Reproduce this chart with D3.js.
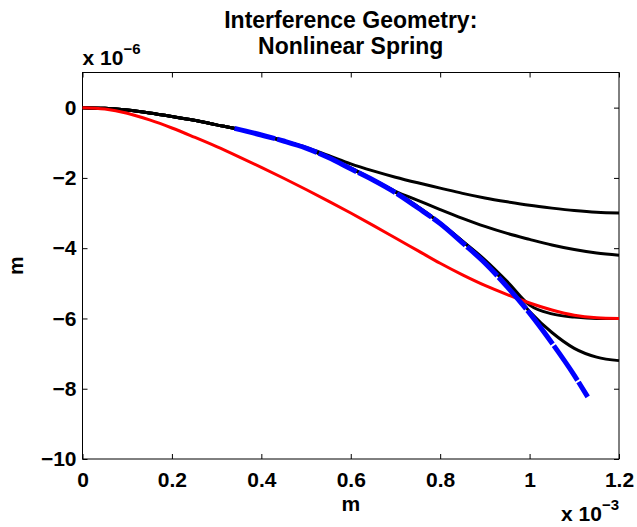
<!DOCTYPE html>
<html lang="en">
<head>
    <meta charset="UTF-8">
    <script src="https://d3js.org/d3.v7.min.js"></script>
    <title>Interference Geometry</title>
    <style>
        body { margin: 0; background: #fff; }
        text { font-family: "Liberation Sans", Arial, Helvetica, sans-serif; font-weight: bold; fill: #000; }
    </style>
</head>
<body>
<script>
    var width = 637;
    var height = 527;

    // x in units of 1e-3 m, y in units of 1e-6 m
    var xGrid = [0, 0.05, 0.1, 0.15, 0.2, 0.25, 0.3, 0.35, 0.4, 0.45, 0.5, 0.55, 0.6,
                 0.65, 0.7, 0.75, 0.8, 0.85, 0.9, 0.95, 1.0, 1.05, 1.1, 1.15, 1.2];

    var redY = [0, -0.04, -0.16, -0.35, -0.58, -0.84, -1.11, -1.4, -1.7, -2.01, -2.33, -2.66, -3.0,
                -3.35, -3.71, -4.07, -4.43, -4.76, -5.06, -5.32, -5.56, -5.76, -5.91, -5.98, -6.0];

    var blackA = [0, -0.02, -0.07, -0.15, -0.25, -0.36, -0.49, -0.62, -0.78, -0.95, -1.13, -1.36, -1.6,
                  -1.8, -1.98, -2.14, -2.29, -2.44, -2.57, -2.68, -2.78, -2.86, -2.93, -2.98, -3.0];
    var blackB = [0, -0.02, -0.07, -0.15, -0.25, -0.36, -0.49, -0.62, -0.78, -0.95, -1.15, -1.42, -1.72,
                  -2.05, -2.38, -2.64, -2.9, -3.15, -3.38, -3.58, -3.75, -3.91, -4.04, -4.14, -4.2];
    var blackC = [0, -0.02, -0.07, -0.15, -0.25, -0.36, -0.49, -0.62, -0.78, -0.95, -1.15, -1.42, -1.72,
                  -2.05, -2.4, -2.82, -3.28, -3.8, -4.33, -4.95, -5.62, -5.87, -5.96, -6.0, -6.0];
    var blackD = [0, -0.02, -0.07, -0.15, -0.25, -0.36, -0.49, -0.62, -0.78, -0.95, -1.15, -1.42, -1.72,
                  -2.05, -2.4, -2.82, -3.28, -3.8, -4.38, -5.05, -5.8, -6.4, -6.85, -7.1, -7.2];

    var blueX = [0.34, 0.4, 0.45, 0.5, 0.55, 0.6, 0.65, 0.7, 0.75, 0.8, 0.85, 0.9, 0.95, 1.0, 1.05, 1.1, 1.13];
    var blueY = [-0.59, -0.78, -0.95, -1.15, -1.42, -1.74, -2.06, -2.42, -2.85, -3.3, -3.85, -4.42, -5.1,
                 -5.85, -6.7, -7.62, -8.23];

    var xTicks = [0, 0.2, 0.4, 0.6, 0.8, 1, 1.2];
    var yTicks = [-10, -8, -6, -4, -2, 0];

    var svg = d3.select("body").append("svg")
        .attr("width", width).attr("height", height);

    var mLeft = 82.5, mRight = 619, mTop = 72.5, mBottom = 459;

    var x = d3.scaleLinear().domain([0, 1.2]).range([mLeft, mRight]);
    var y = d3.scaleLinear().domain([-10, 1]).range([mBottom, mTop]);
    var cx = (mLeft + mRight) / 2;

    // title
    var title = svg.append("text")
        .attr("text-anchor", "middle")
        .style("font-size", "23px");
    title.append("tspan").attr("x", cx).attr("y", 28).text("Interference Geometry:");
    title.append("tspan").attr("x", cx).attr("y", 54).text("Nonlinear Spring");

    // axes, MATLAB style: ticks inward on all four sides
    svg.append("g").attr("transform", "translate(0," + mBottom + ")")
        .call(d3.axisBottom(x).tickValues(xTicks).tickSize(-5).tickPadding(13).tickFormat(d3.format("")));
    svg.append("g").attr("transform", "translate(0," + mTop + ")")
        .call(d3.axisTop(x).tickValues(xTicks).tickSize(-5).tickFormat(""));
    svg.append("g").attr("transform", "translate(" + mLeft + ",0)")
        .call(d3.axisLeft(y).tickValues(yTicks).tickSize(-5).tickPadding(6));
    svg.append("g").attr("transform", "translate(" + mRight + ",0)")
        .call(d3.axisRight(y).tickValues(yTicks).tickSize(-5).tickFormat(""));

    svg.selectAll(".domain").remove();
    svg.selectAll(".tick line").attr("stroke", "#000").attr("stroke-width", 1);
    svg.selectAll(".tick text").style("font-size", "21px").attr("font-family", null);

    svg.append("rect")
        .attr("x", mLeft).attr("y", mTop)
        .attr("width", mRight - mLeft).attr("height", mBottom - mTop)
        .attr("fill", "none").attr("stroke", "#000").attr("stroke-width", 1);

    // axis labels
    svg.append("text")
        .attr("x", cx).attr("y", 511)
        .attr("text-anchor", "middle")
        .style("font-size", "21px")
        .text("m");
    svg.append("text")
        .attr("transform", "translate(23," + (mTop + mBottom) / 2 + ") rotate(-90)")
        .attr("text-anchor", "middle")
        .style("font-size", "21px")
        .text("m");

    // exponent labels
    var expY = svg.append("text").attr("x", mLeft).attr("y", 65).style("font-size", "21px");
    expY.append("tspan").text("x 10");
    expY.append("tspan").attr("dy", -11).style("font-size", "15px").text("\u22126");

    var expX = svg.append("text").attr("x", mRight).attr("y", 521).attr("text-anchor", "end").style("font-size", "21px");
    expX.append("tspan").text("x 10");
    expX.append("tspan").attr("dy", -11).style("font-size", "15px").text("\u22123");

    // curves
    var line = d3.line()
        .x(function(d) { return x(d[0]); })
        .y(function(d) { return y(d[1]); })
        .curve(d3.curveMonotoneX);

    var plot = svg.append("g");
    [blackA, blackB, blackC, blackD].forEach(function(ys) {
        plot.append("path")
            .datum(xGrid.map(function(v, i) { return [v, ys[i]]; }))
            .attr("d", line)
            .attr("fill", "none")
            .attr("stroke", "#000")
            .attr("stroke-width", 3);
    });

    plot.append("path")
        .datum(xGrid.map(function(v, i) { return [v, redY[i]]; }))
        .attr("d", line)
        .attr("fill", "none")
        .attr("stroke", "#ff0000")
        .attr("stroke-width", 3);

    plot.append("path")
        .datum(blueX.map(function(v, i) { return [v, blueY[i]]; }))
        .attr("d", line)
        .attr("fill", "none")
        .attr("stroke", "#0000ff")
        .attr("stroke-width", 5)
        .attr("stroke-dasharray", "42,2");
</script>
</body>
</html>
